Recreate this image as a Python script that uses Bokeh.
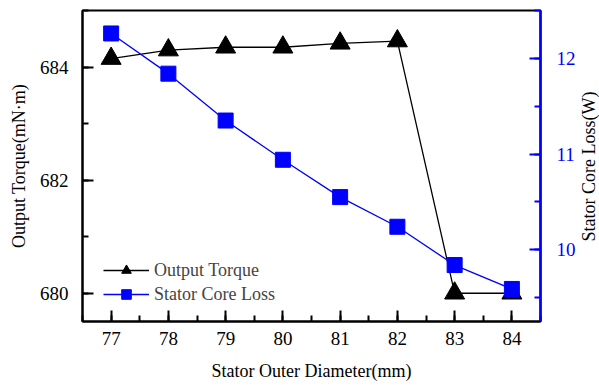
import math
from bokeh.plotting import figure
from bokeh.models import Range1d, LinearAxis, SingleIntervalTicker, Legend, LegendItem, Label
from bokeh.embed import file_html
from bokeh.resources import INLINE

diameter = [77, 78, 79, 80, 81, 82, 83, 84]
torque = [684.15, 684.30, 684.35, 684.35, 684.42, 684.46, 680.0, 680.0]
core_loss = [12.26, 11.84, 11.35, 10.94, 10.55, 10.24, 9.84, 9.59]

FONT = "Liberation Serif"

p = figure(width=599, height=385, output_backend="svg", toolbar_location=None,
           x_range=Range1d(76.5, 84.5), y_range=Range1d(679.5, 685.0),
           min_border_left=82, min_border_right=59, min_border_top=10, min_border_bottom=64)
p.extra_y_ranges = {"loss": Range1d(9.25, 12.5)}
p.xgrid.visible = False
p.ygrid.visible = False
p.outline_line_color = "black"
p.outline_line_width = 2
p.background_fill_color = "white"
p.border_fill_color = "white"

for ax in [p.xaxis[0], p.yaxis[0]]:
    ax.axis_line_color = "black"
    ax.axis_line_width = 2
    ax.major_tick_line_color = "black"
    ax.minor_tick_line_color = "black"
    ax.major_tick_line_width = 2
    ax.minor_tick_line_width = 2
    ax.major_tick_in = 11
    ax.major_tick_out = 0
    ax.minor_tick_in = 6
    ax.minor_tick_out = 0
    ax.major_label_text_font = FONT
    ax.major_label_text_font_size = "19px"
    ax.major_label_text_color = "black"
    ax.axis_label_text_font = FONT
    ax.axis_label_text_font_size = "18px"
    ax.axis_label_text_font_style = "normal"
    ax.axis_label_text_color = "black"

p.xaxis[0].ticker = SingleIntervalTicker(interval=1, num_minor_ticks=2)
p.xaxis[0].axis_label = "Stator Outer Diameter(mm)"
p.xaxis[0].major_label_standoff = 10
p.xaxis[0].axis_label_standoff = 13

p.yaxis[0].ticker = SingleIntervalTicker(interval=2, num_minor_ticks=2)
p.yaxis[0].axis_label = "Output Torque(mN·m)"
p.yaxis[0].major_label_standoff = 14
p.yaxis[0].axis_label_standoff = 8

ax2 = LinearAxis(y_range_name="loss", ticker=SingleIntervalTicker(interval=1, num_minor_ticks=2))
ax2.axis_line_color = "blue"
ax2.axis_line_width = 2.5
ax2.major_tick_line_color = "blue"
ax2.minor_tick_line_color = "blue"
ax2.major_tick_line_width = 2
ax2.minor_tick_line_width = 2
ax2.major_tick_in = 11
ax2.major_tick_out = 0
ax2.minor_tick_in = 6
ax2.minor_tick_out = 0
ax2.major_label_text_font = FONT
ax2.major_label_text_font_size = "19px"
ax2.major_label_text_color = "blue"
ax2.major_label_standoff = 16
p.add_layout(ax2, "right")

# right axis title, reading bottom-to-top, placed in the right side panel (not clipped)
right_title = Label(x=588, y=166, x_units="canvas", y_units="canvas", angle=math.pi / 2,
                    text="Stator Core Loss(W)", text_font=FONT, text_font_size="18px",
                    text_color="black", text_align="center", text_baseline="middle")
p.add_layout(right_title, "right")

l1 = p.line(diameter, torque, line_color="black", line_width=1.3)
m1 = p.scatter(diameter, torque, marker="triangle", size=20, fill_color="black", line_color="black")
l2 = p.line(diameter, core_loss, line_color="blue", line_width=1.3, y_range_name="loss")
m2 = p.scatter(diameter, core_loss, marker="square", size=15, fill_color="blue", line_color="blue",
               y_range_name="loss")

legend = Legend(items=[LegendItem(label="Output Torque", renderers=[l1, m1]),
                       LegendItem(label="Stator Core Loss", renderers=[l2, m2])],
                location=(21, 15), border_line_color=None, background_fill_alpha=0,
                label_text_font=FONT, label_text_font_size="18px", glyph_width=46,
                glyph_height=24, label_height=24, spacing=0, padding=0, margin=0,
                label_standoff=5)
p.add_layout(legend, "center")

open("out.html", "w").write(file_html(p, INLINE))
